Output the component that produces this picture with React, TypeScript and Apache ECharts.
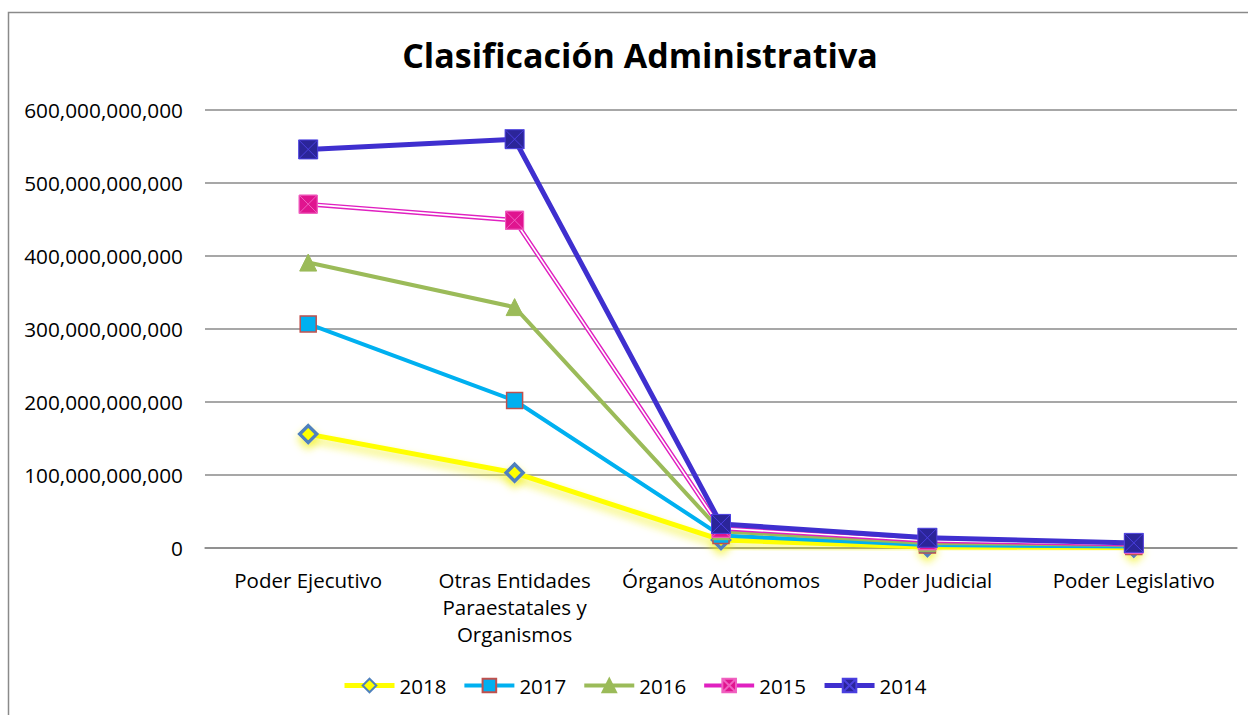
import React, { useEffect, useRef } from "react";
import * as echarts from "echarts";

const categories = [
  "Poder Ejecutivo",
  "Otras Entidades\nParaestatales y\nOrganismos",
  "Órganos Autónomos",
  "Poder Judicial",
  "Poder Legislativo",
];
const yTicks = { min: 0, max: 600000000000, interval: 100000000000 };
const s2018 = [156000000000, 103000000000, 11000000000, 1500000000, 800000000];
const s2017 = [307000000000, 202000000000, 17000000000, 4000000000, 2000000000];
const s2016 = [391000000000, 330000000000, 23000000000, 7000000000, 4000000000];
const s2015 = [471000000000, 449000000000, 27000000000, 10000000000, 5000000000];
const s2014 = [546000000000, 560000000000, 33000000000, 14000000000, 7000000000];

const FONT = "'Open Sans', 'Noto Sans', sans-serif";
const XSYM = "path://M0,0H20V20H0Z M0,0L20,20 M20,0L0,20";

export default function App() {
  const ref = useRef<HTMLDivElement>(null);
  useEffect(() => {
    if (!ref.current) return;
    const chart = echarts.init(ref.current, null, { renderer: "svg" });
    chart.setOption({
      animation: false,
      backgroundColor: "#ffffff",
      textStyle: { fontFamily: FONT },
      title: {
        text: "Clasificación Administrativa",
        left: 635,
        textAlign: "center",
        top: 33,
        textStyle: { fontFamily: FONT, fontSize: 34, fontWeight: "bold", color: "#000" },
      },
      graphic: [
        {
          type: "rect",
          shape: { x: 8.5, y: 12.5, width: 1300, height: 800 },
          style: { fill: "none", stroke: "#8a8a8a", lineWidth: 1.5 },
          silent: true,
          z: -1,
        },
      ],
      grid: { left: 205, right: 11, top: 110, bottom: 167, containLabel: false },
      legend: {
        top: 670,
        left: 337,
        itemWidth: 50,
        itemHeight: 17,
        itemGap: 16,
        textStyle: { fontFamily: FONT, fontSize: 20.5, color: "#000" },
        data: [
          { name: "2018", lineStyle: { width: 5 } },
          { name: "2017", lineStyle: { width: 4 } },
          { name: "2016", lineStyle: { width: 4 } },
          { name: "2015", lineStyle: { width: 4 } },
          { name: "2014", lineStyle: { width: 5 } },
        ],
      },
      xAxis: {
        type: "category",
        data: categories,
        boundaryGap: true,
        axisLine: { show: true, lineStyle: { color: "#8a8a8a", width: 1.5 } },
        axisTick: { show: false },
        axisLabel: {
          interval: 0,
          margin: 18,
          fontFamily: FONT,
          fontSize: 20.5,
          color: "#000",
          lineHeight: 27,
        },
      },
      yAxis: {
        type: "value",
        min: yTicks.min,
        max: yTicks.max,
        interval: yTicks.interval,
        axisLine: { show: false },
        axisTick: { show: false },
        splitLine: { lineStyle: { color: "#8a8a8a", width: 1.5 } },
        axisLabel: {
          margin: 22,
          fontFamily: FONT,
          fontSize: 20.8,
          color: "#000",
          formatter: (v: number) => v.toLocaleString("en-US"),
        },
      },
      series: [
        {
          name: "2018",
          type: "line",
          data: s2018,
          symbol: "diamond",
          symbolSize: 17,
          lineStyle: {
            color: "#ffff00",
            width: 5,
            shadowColor: "rgba(240,240,0,0.7)",
            shadowBlur: 8,
            shadowOffsetY: 5,
          },
          itemStyle: {
            color: "#ffff00",
            borderColor: "#4f81bd",
            borderWidth: 3.5,
            shadowColor: "rgba(240,240,0,0.7)",
            shadowBlur: 8,
            shadowOffsetY: 5,
          },
        },
        {
          name: "2017",
          type: "line",
          data: s2017,
          symbol: "rect",
          symbolSize: 16,
          lineStyle: { color: "#00b0f0", width: 4 },
          itemStyle: { color: "#00b0f0", borderColor: "#c0504d", borderWidth: 1.5 },
        },
        {
          name: "2016",
          type: "line",
          data: s2016,
          symbol: "triangle",
          symbolSize: 17,
          lineStyle: { color: "#9bbb59", width: 4 },
          itemStyle: { color: "#9bbb59", borderColor: "#9bbb59", borderWidth: 1 },
        },
        {
          name: "2015",
          type: "line",
          data: s2015,
          symbol: XSYM,
          symbolSize: 18,
          lineStyle: { color: "#e020c0", width: 4.5 },
          itemStyle: { color: "#e0148f", borderColor: "#f060c0", borderWidth: 1 },
        },
        {
          name: "2015-inner",
          type: "line",
          data: s2015,
          symbol: "none",
          silent: true,
          lineStyle: { color: "#ffffff", width: 1.6 },
        },
        {
          name: "2015",
          type: "line",
          data: s2015,
          symbol: XSYM,
          symbolSize: 18,
          lineStyle: { width: 0, opacity: 0 },
          itemStyle: { color: "#e0148f", borderColor: "#f060c0", borderWidth: 1 },
        },
        {
          name: "2014",
          type: "line",
          data: s2014,
          symbol: XSYM,
          symbolSize: 19,
          lineStyle: { color: "#3f2fcf", width: 5 },
          itemStyle: { color: "#2b2599", borderColor: "#4a3fe0", borderWidth: 1 },
        },
      ],
    });
    return () => chart.dispose();
  }, []);
  return (
    <div
      ref={ref}
      style={{ position: "absolute", left: 0, top: 0, width: 1248, height: 715 }}
    />
  );
}
